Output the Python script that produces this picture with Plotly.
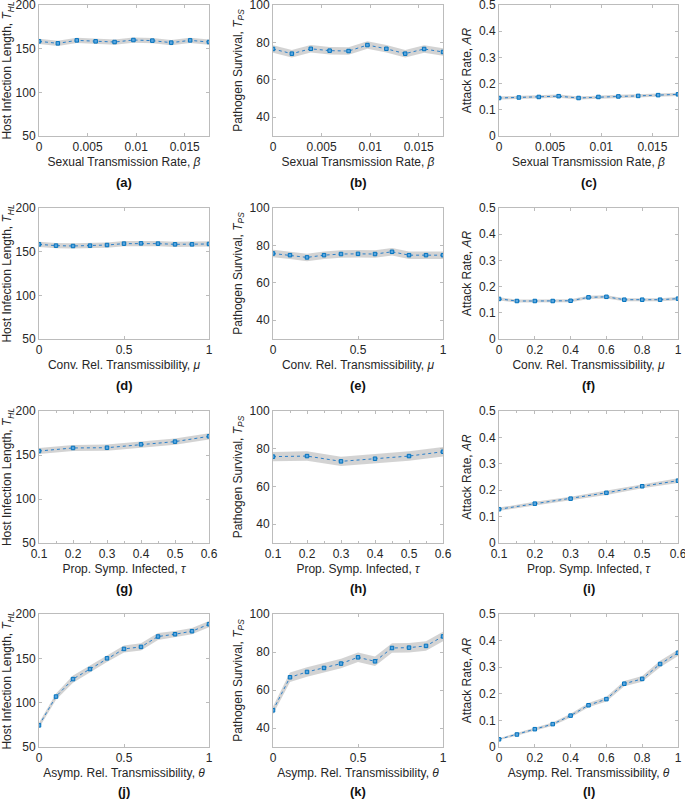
import plotly.graph_objects as go

# ---------------- data ----------------
beta = [0, 0.00194, 0.00389, 0.00583, 0.00778, 0.00972, 0.01167, 0.01361, 0.01556, 0.0175]
mu = [0, 0.1, 0.2, 0.3, 0.4, 0.5, 0.6, 0.7, 0.8, 0.9, 1.0]
tau = [0.1, 0.2, 0.3, 0.4, 0.5, 0.6]
theta = [0, 0.1, 0.2, 0.3, 0.4, 0.5, 0.6, 0.7, 0.8, 0.9, 1.0]

thl_beta = [158.4, 156.1, 159.5, 158.4, 157.6, 159.9, 159.2, 156.9, 159.5, 157.6]
tps_beta = [76.5, 74.0, 76.6, 75.6, 75.4, 78.6, 76.6, 74.0, 76.5, 74.9]
ar_beta = [0.145, 0.147, 0.149, 0.152, 0.145, 0.149, 0.151, 0.153, 0.156, 0.159]

thl_mu = [158.4, 156.9, 156.5, 156.9, 157.6, 159.2, 159.5, 159.2, 158.4, 158.4, 158.8]
tps_mu = [75.7, 74.8, 73.6, 74.8, 75.4, 75.5, 75.4, 76.6, 74.8, 74.8, 74.8]
ar_mu = [0.153, 0.145, 0.145, 0.145, 0.146, 0.159, 0.161, 0.150, 0.150, 0.150, 0.154]

thl_tau = [154.5, 158.0, 158.3, 162.1, 165.2, 171.2]
tps_tau = [75.8, 76.1, 73.3, 74.7, 76.1, 78.4]
ar_tau = [0.128, 0.149, 0.168, 0.190, 0.215, 0.236]

thl_theta = [74.4, 106.9, 126.6, 137.9, 150.0, 160.6, 162.9, 174.6, 177.2, 180.6, 188.5]
tps_theta = [49.3, 66.7, 69.5, 71.6, 73.9, 77.2, 75.1, 82.1, 82.3, 83.2, 88.2]
ar_theta = [0.029, 0.047, 0.067, 0.086, 0.118, 0.157, 0.180, 0.238, 0.256, 0.312, 0.354]

# confidence half-widths (shaded band)
ci_thl_beta = [3.0] * 10
ci_tps_beta = [2.0] * 10
ci_ar_beta = [0.006] * 10
ci_thl_mu = [3.0] * 11
ci_tps_mu = [2.0] * 11
ci_ar_mu = [0.006] * 11
ci_thl_tau = [3.5, 3.5, 3.5, 3.5, 3.5, 3.5]
ci_tps_tau = [2.5, 2.5, 2.5, 2.5, 2.5, 2.5]
ci_ar_tau = [0.006, 0.007, 0.007, 0.008, 0.008, 0.009]
ci_thl_theta = [3.0, 3.5, 4.0, 4.0, 4.0, 4.0, 4.0, 4.0, 3.5, 3.5, 3.5]
ci_tps_theta = [2.0, 2.5, 2.5, 2.5, 2.5, 2.5, 2.5, 2.5, 2.5, 2.5, 2.5]
ci_ar_theta = [0.004, 0.005, 0.005, 0.006, 0.007, 0.008, 0.009, 0.010, 0.011, 0.012, 0.012]

x_titles = ["Sexual Transmission Rate, <i>β</i>",
            "Conv. Rel. Transmissibility, <i>μ</i>",
            "Prop. Symp. Infected, <i>τ</i>",
            "Asymp. Rel. Transmissibility, <i>θ</i>"]
y_titles = ["Host Infection Length, <i>T</i><sub><i>HL</i></sub>",
            "Pathogen Survival, <i>T</i><sub><i>PS</i></sub>",
            "Attack Rate, <i>AR</i>"]
panel_labels = ["(a)", "(b)", "(c)", "(d)", "(e)", "(f)",
                "(g)", "(h)", "(i)", "(j)", "(k)", "(l)"]

xs = [beta, mu, tau, theta]
ys = [[thl_beta, tps_beta, ar_beta],
      [thl_mu, tps_mu, ar_mu],
      [thl_tau, tps_tau, ar_tau],
      [thl_theta, tps_theta, ar_theta]]
cis = [[ci_thl_beta, ci_tps_beta, ci_ar_beta],
       [ci_thl_mu, ci_tps_mu, ci_ar_mu],
       [ci_thl_tau, ci_tps_tau, ci_ar_tau],
       [ci_thl_theta, ci_tps_theta, ci_ar_theta]]

# ---------------- layout geometry ----------------
W, H = 685, 802
col_px = [(39, 209), (273, 443), (499, 678)]
row_px = [(5, 136), (208, 339), (411, 543), (614, 747)]
label_y_px = [183, 385, 588, 791]

y_ranges = [[50, 200], [30, 100], [0, 0.5]]
y_ticks = [[50, 100, 150, 200], [40, 60, 80, 100], [0, 0.1, 0.2, 0.3, 0.4, 0.5]]
x_ranges = [[0, 0.0175], [0, 1], [0.1, 0.6], [0, 1]]

FONT = "Liberation Sans, Arial, Helvetica, sans-serif"
TXT = "#262626"
AXC = "#bcbcbc"
FS = 12

fig = go.Figure()
layout = dict(width=W, height=H, margin=dict(l=0, r=0, t=0, b=0),
              paper_bgcolor="white", plot_bgcolor="white", showlegend=False,
              font=dict(family=FONT, size=FS, color=TXT))
annotations = []

idx = 0
for r in range(4):
    for c in range(3):
        idx += 1
        xa = "x" if idx == 1 else f"x{idx}"
        ya = "y" if idx == 1 else f"y{idx}"
        x = xs[r]
        y = ys[r][c]
        ci = cis[r][c]
        up = [v + e for v, e in zip(y, ci)]
        lo = [v - e for v, e in zip(y, ci)]
        fig.add_trace(go.Scatter(x=list(x) + list(x)[::-1], y=up + lo[::-1],
                                 fill="toself", fillcolor="rgba(150,150,150,0.42)",
                                 line=dict(width=0), mode="lines",
                                 xaxis=xa, yaxis=ya, hoverinfo="skip"))
        fig.add_trace(go.Scatter(x=x, y=y, mode="lines+markers",
                                 line=dict(color="#2a7fc9", width=1, dash="dot"),
                                 marker=dict(symbol="square", size=3.5, color="#5aa6e0",
                                             line=dict(color="#0072BD", width=1)),
                                 xaxis=xa, yaxis=ya))
        x0, x1 = col_px[c]
        y0, y1 = row_px[r]
        xkey = "xaxis" if idx == 1 else f"xaxis{idx}"
        ykey = "yaxis" if idx == 1 else f"yaxis{idx}"
        if r == 0:
            xt = [0, 0.005, 0.01, 0.015]
        elif r == 2:
            xt = [0.1, 0.2, 0.3, 0.4, 0.5, 0.6]
        elif c == 2:
            xt = [0, 0.2, 0.4, 0.6, 0.8, 1]
        else:
            xt = [0, 0.5, 1]
        xdict = dict(domain=[x0 / W, x1 / W], anchor=ya, range=x_ranges[r],
                     automargin=False, ticklabeloverflow="allow",
                     tickvals=xt, ticks="inside", ticklen=3, tickcolor=AXC,
                     showline=True, linecolor=AXC, linewidth=1, mirror="ticks",
                     showgrid=False, zeroline=False,
                     tickfont=dict(size=FS, color=TXT, family=FONT),
                     title=dict(text=x_titles[r], standoff=4,
                                font=dict(size=FS, color=TXT, family=FONT)))
        if r == 2:
            xdict["minor"] = dict(dtick=0.05, tick0=0.1, ticks="inside", ticklen=2,
                                  tickcolor=AXC, showgrid=False)
        layout[xkey] = xdict
        layout[ykey] = dict(domain=[1 - y1 / H, 1 - y0 / H], anchor=xa,
                            automargin=False, ticklabeloverflow="allow",
                            range=y_ranges[c], tickvals=y_ticks[c],
                            ticks="inside", ticklen=3, tickcolor=AXC,
                            showline=True, linecolor=AXC, linewidth=1, mirror="ticks",
                            showgrid=False, zeroline=False,
                            tickfont=dict(size=FS, color=TXT, family=FONT),
                            title=dict(text=y_titles[c], standoff=4,
                                       font=dict(size=FS, color=TXT, family=FONT)))
        annotations.append(dict(text=f"<b>{panel_labels[idx - 1]}</b>",
                                x=(x0 + x1) / 2 / W, y=1 - label_y_px[r] / H,
                                xref="paper", yref="paper", showarrow=False,
                                xanchor="center", yanchor="middle",
                                font=dict(size=13, color="#111111", family=FONT)))

layout["annotations"] = annotations
fig.update_layout(**layout)
fig.write_html("out.html", config={"displayModeBar": False},
               post_script="document.body.style.margin='0';document.body.style.overflow='hidden';")
